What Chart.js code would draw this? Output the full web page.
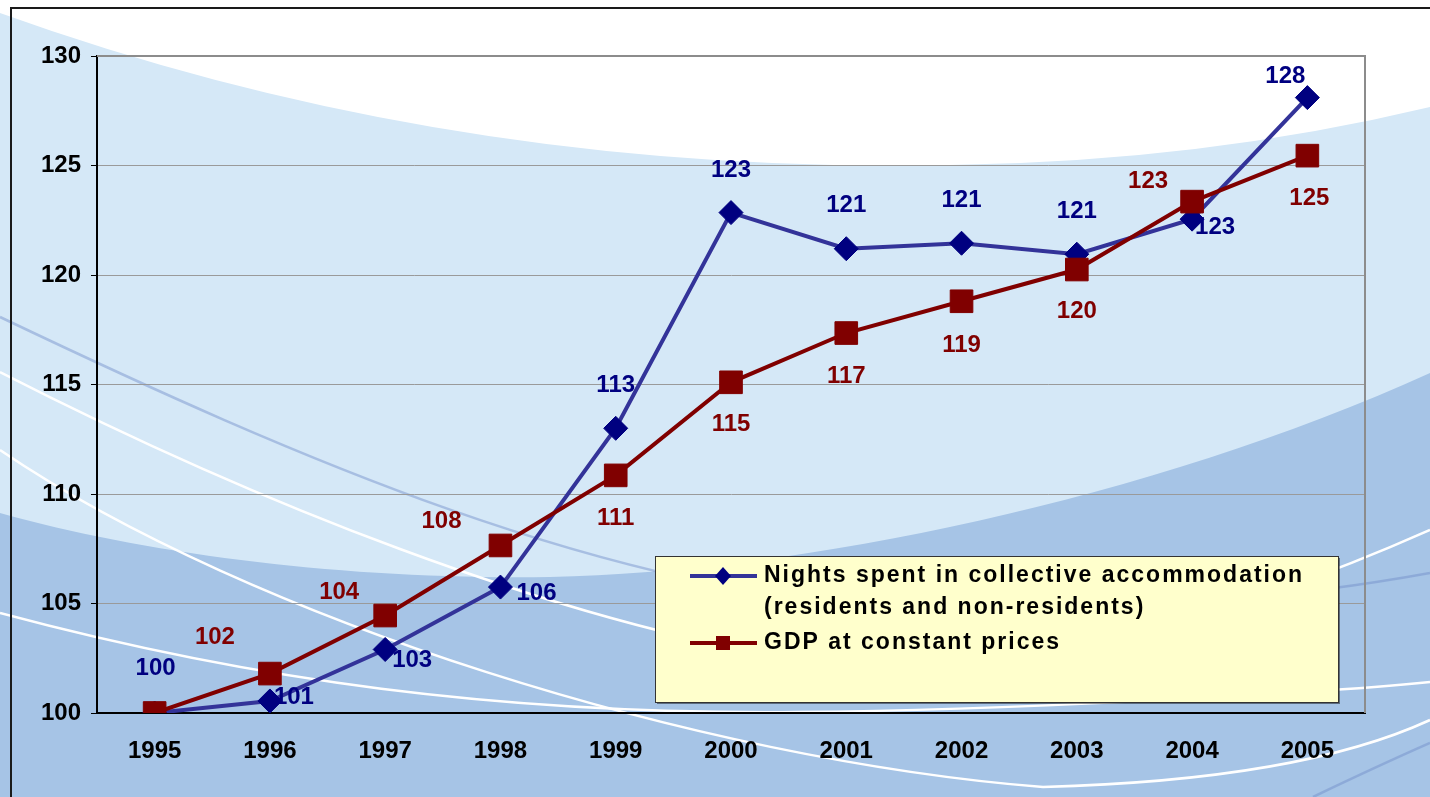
<!DOCTYPE html>
<html>
<head>
<meta charset="utf-8">
<script src="https://cdn.jsdelivr.net/npm/chart.js@4.4.1/dist/chart.umd.min.js"></script>
<style>
  body { margin: 0; background: #fff; }
  #wrap { width: 1430px; height: 797px; position: relative; }
</style>
</head>
<body>
<div id="wrap"><canvas id="myChart"></canvas></div>
<script>
// chart values
let years = ['1995', '1996', '1997', '1998', '1999', '2000', '2001', '2002', '2003', '2004', '2005'];
let nights = [100, 100.55, 102.9, 105.75, 113.0, 122.85, 121.2, 121.45, 120.95, 122.55, 128.1];
let gdp = [100, 101.8, 104.45, 107.65, 110.85, 115.1, 117.35, 118.8, 120.25, 123.35, 125.45];
let yMin = 100;
let yMax = 130;
let yStep = 5;

// where each value label sits relative to its point (dx, dy in px)
let nightsLabelPos = [[1, -45], [24, -4], [27, 11], [36, 6], [0, -43], [0, -42], [0, -43], [0, -43], [0, -43], [23, 8], [-22, -21]];
let gdpLabelPos = [null, [-55, -36], [-46, -23], [-59, -24], [0, 43], [0, 42], [0, 43], [0, 44], [0, 42], [-44, -20], [2, 43]];

const FONT = "'Liberation Sans', Arial, sans-serif";

// decorative slide background + outer frame
const backdrop = {
  id: 'backdrop',
  beforeDraw(chart) {
    const ctx = chart.ctx;
    const w = chart.width, h = chart.height;
    ctx.save();
    ctx.fillStyle = '#d5e8f7';
    ctx.fillRect(0, 0, w, h);

    // white top
    ctx.fillStyle = '#ffffff';
    ctx.beginPath();
    ctx.moveTo(0, 0);
    ctx.lineTo(0, 13);
    ctx.quadraticCurveTo(450, 175, 950, 165);
    ctx.quadraticCurveTo(1200, 162, 1430, 107);
    ctx.lineTo(1430, 0);
    ctx.closePath();
    ctx.fill();

    // darker bottom
    ctx.fillStyle = '#a6c4e6';
    ctx.beginPath();
    ctx.moveTo(0, 513);
    ctx.bezierCurveTo(150, 555, 350, 580, 550, 577);
    ctx.bezierCurveTo(800, 572, 1150, 500, 1430, 373);
    ctx.lineTo(1430, h);
    ctx.lineTo(0, h);
    ctx.closePath();
    ctx.fill();

    // faint blue swoosh
    ctx.strokeStyle = 'rgba(110,140,200,0.45)';
    ctx.lineWidth = 2.5;
    ctx.beginPath();
    ctx.moveTo(0, 317);
    ctx.bezierCurveTo(300, 460, 600, 590, 900, 610);
    ctx.quadraticCurveTo(1200, 615, 1430, 573);
    ctx.stroke();
    ctx.beginPath();
    ctx.moveTo(1313, 797);
    ctx.quadraticCurveTo(1380, 765, 1430, 743);
    ctx.stroke();

    // white swooshes
    ctx.strokeStyle = '#ffffff';
    ctx.lineWidth = 2.5;
    ctx.beginPath();
    ctx.moveTo(0, 372);
    ctx.bezierCurveTo(250, 500, 550, 620, 800, 660);
    ctx.bezierCurveTo(1000, 690, 1250, 610, 1430, 530);
    ctx.stroke();
    ctx.beginPath();
    ctx.moveTo(0, 450);
    ctx.bezierCurveTo(250, 620, 700, 760, 1043, 787);
    ctx.quadraticCurveTo(1300, 780, 1430, 720);
    ctx.stroke();
    ctx.beginPath();
    ctx.moveTo(0, 613);
    ctx.bezierCurveTo(250, 680, 500, 715, 800, 712);
    ctx.bezierCurveTo(1000, 710, 1300, 695, 1430, 682);
    ctx.stroke();

    // frame
    ctx.strokeStyle = '#1a1a1a';
    ctx.lineWidth = 2;
    ctx.beginPath();
    ctx.moveTo(11, h);
    ctx.lineTo(11, 8);
    ctx.lineTo(w, 8);
    ctx.stroke();
    ctx.restore();
  },
  beforeDatasetsDraw(chart) {
    const ctx = chart.ctx;
    const a = chart.chartArea;
    ctx.save();
    ctx.strokeStyle = '#8c8c8c';
    ctx.lineWidth = 2;
    ctx.beginPath();
    ctx.moveTo(a.left, a.top);
    ctx.lineTo(a.right, a.top);
    ctx.lineTo(a.right, a.bottom);
    ctx.stroke();
    ctx.restore();
  }
};

// yellow legend box
const boxLegend = {
  id: 'boxLegend',
  afterDatasetsDraw(chart) {
    const ctx = chart.ctx;
    const bx = 655, by = 556, bw = 683, bh = 146;
    ctx.save();
    ctx.fillStyle = 'rgba(0,0,0,0.45)';
    ctx.fillRect(bx + 2, by + 2, bw, bh);
    ctx.fillStyle = '#ffffcc';
    ctx.fillRect(bx, by, bw, bh);
    ctx.strokeStyle = '#333333';
    ctx.lineWidth = 1;
    ctx.strokeRect(bx + 0.5, by + 0.5, bw, bh);

    ctx.font = 'bold 23px ' + FONT;
    ctx.letterSpacing = '2px';
    ctx.fillStyle = '#000000';
    ctx.textAlign = 'left';
    ctx.textBaseline = 'middle';
    const textX = 764;
    const maxW = bx + bw - textX - 10;
    let y = 576;
    chart.data.datasets.forEach((ds) => {
      // key line + marker
      ctx.strokeStyle = ds.borderColor;
      ctx.lineWidth = 4;
      ctx.beginPath();
      ctx.moveTo(690, y);
      ctx.lineTo(757, y);
      ctx.stroke();
      ctx.fillStyle = ds.pointBackgroundColor;
      ctx.beginPath();
      if (ds.pointStyle === 'rectRot') {
        ctx.moveTo(723, y - 9); ctx.lineTo(731, y); ctx.lineTo(723, y + 9); ctx.lineTo(715, y);
      } else {
        ctx.rect(716, y - 7, 14, 14);
      }
      ctx.closePath();
      ctx.fill();

      // wrapped label
      ctx.fillStyle = '#000000';
      let words = ds.label.split(' ');
      let line = '';
      let lines = [];
      words.forEach((wd) => {
        let test = line ? line + ' ' + wd : wd;
        if (ctx.measureText(test).width > maxW && line) {
          lines.push(line);
          line = wd;
        } else {
          line = test;
        }
      });
      lines.push(line);
      lines.forEach((ln, i) => {
        ctx.fillText(ln, textX, y + i * 32);
      });
      y += (lines.length - 1) * 32 + 35;
    });
    ctx.restore();
  }
};

// value labels next to points
const valueLabels = {
  id: 'valueLabels',
  afterDatasetsDraw(chart) {
    const ctx = chart.ctx;
    ctx.save();
    ctx.font = 'bold 24px ' + FONT;
    ctx.textAlign = 'center';
    ctx.textBaseline = 'middle';
    chart.data.datasets.forEach((ds, di) => {
      const meta = chart.getDatasetMeta(di);
      meta.data.forEach((pt, i) => {
        const off = ds.labelPos[i];
        if (!off) return;
        ctx.fillStyle = ds.labelColor;
        ctx.fillText(String(Math.round(ds.data[i])), pt.x + off[0], pt.y + off[1]);
      });
    });
    ctx.restore();
  }
};

let ctx = document.getElementById('myChart').getContext('2d');

let chart = new Chart(ctx, {
  type: 'line',
  data: {
    labels: years,
    datasets: [{
      label: 'Nights spent in collective accommodation (residents and non-residents)',
      data: nights,
      borderColor: '#333399',
      borderWidth: 4,
      pointStyle: 'rectRot',
      pointRadius: 12,
      pointBackgroundColor: '#000080',
      pointBorderColor: '#000080',
      pointBorderWidth: 1,
      tension: 0,
      order: 1,
      labelPos: nightsLabelPos,
      labelColor: '#000080'
    }, {
      label: 'GDP at constant prices',
      data: gdp,
      borderColor: '#800000',
      borderWidth: 4,
      pointStyle: 'rect',
      pointRadius: 16,
      pointBackgroundColor: '#800000',
      pointBorderColor: '#800000',
      pointBorderWidth: 1,
      tension: 0,
      order: 0,
      labelPos: gdpLabelPos,
      labelColor: '#800000'
    }]
  },
  options: {
    responsive: true,
    maintainAspectRatio: false,
    animation: false,
    layout: { padding: { top: 56, right: 65, left: 0, bottom: 0 } },
    plugins: {
      legend: { display: false },
      tooltip: { enabled: false }
    },
    scales: {
      x: {
        offset: true,
        grid: { display: false, drawTicks: false },
        border: { color: '#000000', width: 2 },
        ticks: {
          color: '#000000',
          font: { family: FONT, size: 24, weight: 'bold' },
          padding: 24,
          maxRotation: 0
        },
        afterFit: (scale) => { scale.height = 84; }
      },
      y: {
        min: yMin,
        max: yMax,
        grid: { color: '#9a9a9a', lineWidth: 1, tickColor: '#000000', tickLength: 6 },
        border: { color: '#000000', width: 2 },
        ticks: {
          stepSize: yStep,
          color: '#000000',
          font: { family: FONT, size: 24, weight: 'bold' },
          padding: 10
        },
        afterFit: (scale) => { scale.width = 97; }
      }
    }
  },
  plugins: [backdrop, boxLegend, valueLabels]
});
</script>
</body>
</html>
